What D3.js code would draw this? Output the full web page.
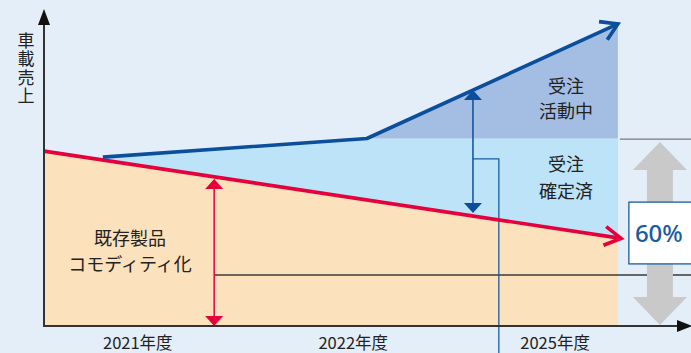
<!DOCTYPE html>
<html><head><meta charset="utf-8">
<script src="https://cdn.jsdelivr.net/npm/d3@7"></script>
<style>html,body{margin:0;padding:0;background:#e3eef8;}svg{display:block;}</style>
</head><body>
<svg id="c" width="691" height="353"></svg>
<script>
// ---- data (conceptual units: x 0..100 time, y 0..100 sales) ----
const categories = ["2021年度", "2022年度", "2025年度"];
const categoryX = [14.5, 47.8, 79.0];
const existingLine = [[0, 58.3], [89.2, 29.2]];          // 既存製品 (red)
const totalLine = [[9.1, 56.3], [49.9, 62.5], [88.7, 100.7]]; // 受注 total (blue)
const confirmedLevel = 62.5;
const fillEnd = 88.7;
const labelExisting = ["既存製品", "コモディティ化"];
const labelActive = ["受注", "活動中"];
const labelConfirmed = ["受注", "確定済"];
const axisLabel = "車載売上";
const shareLabel = "60%";
const redArrow = {x: 26.3, top: 49.0, bottom: 0};
const blueArrow = {x: 66.3, top: 78.7, bottom: 37.7};
const connector = [[66.3, 55.7], [70.3, 55.7], [70.3, -10]];
const refLineLow = {x0: 26.3, x1: 100, y: 17};
const refLineHigh = {x0: 89.0, x1: 100, y: 62.3};
const grayArrow = {x: 95.2, top: 61.3, bottom: 0.3};
const shareBox = {x0: 90.4, x1: 101, y0: 20.7, y1: 41.3};

const svg = d3.select("#c");
const W = 691, H = 353;
const x = d3.scaleLinear().domain([0, 100]).range([44, 691]);
const y = d3.scaleLinear().domain([0, 100]).range([326, 26]);

svg.append("rect").attr("width", W).attr("height", H).attr("fill", "#e3eef8");

const defs = svg.append("defs");
defs.append("clipPath").attr("id", "fillclip").append("rect")
  .attr("x", x(0)).attr("y", 0).attr("width", x(fillEnd) - x(0)).attr("height", y(0));

const g = svg.append("g").attr("clip-path", "url(#fillclip)");
// light blue confirmed region
const lb = [totalLine[0], totalLine[1], [fillEnd + 1, confirmedLevel], [fillEnd + 1, 0], [totalLine[0][0], 0]];
g.append("path").attr("d", d3.line().x(d => x(d[0])).y(d => y(d[1]))(lb) + "Z").attr("fill", "#bce3f8");
// dark blue active region
const db = [totalLine[1], totalLine[2], [totalLine[2][0], confirmedLevel]];
g.append("path").attr("d", d3.line().x(d => x(d[0])).y(d => y(d[1]))(db) + "Z").attr("fill", "#a3bee2");
// orange existing area
g.append("path").datum(existingLine)
  .attr("d", d3.area().x(d => x(d[0])).y0(y(0)).y1(d => y(d[1])))
  .attr("fill", "#fbe1bc");

// reference lines
svg.append("line").attr("x1", x(refLineLow.x0)).attr("x2", x(refLineLow.x1))
  .attr("y1", y(refLineLow.y)).attr("y2", y(refLineLow.y)).attr("stroke", "#3a3a3a").attr("stroke-width", 1.3);
svg.append("line").attr("x1", x(refLineHigh.x0)).attr("x2", x(refLineHigh.x1))
  .attr("y1", y(refLineHigh.y)).attr("y2", y(refLineHigh.y)).attr("stroke", "#7a7a7a").attr("stroke-width", 1.3);

// gray double arrow
(function () {
  const cx = x(grayArrow.x), t = y(grayArrow.top), b = y(grayArrow.bottom);
  const sw = 13, hw = 27, hh = 28;
  const pts = [[cx, t], [cx + hw, t + hh], [cx + sw, t + hh], [cx + sw, b - hh], [cx + hw, b - hh], [cx, b],
    [cx - hw, b - hh], [cx - sw, b - hh], [cx - sw, t + hh], [cx - hw, t + hh]];
  svg.append("polygon").attr("points", pts.map(p => p.join(",")).join(" ")).attr("fill", "#c9c9c9");
})();

function chevron(p1, p2, len, ang, color, w) {
  const a = Math.atan2(p2[1] - p1[1], p2[0] - p1[0]);
  const pA = [p2[0] - len * Math.cos(a - ang), p2[1] - len * Math.sin(a - ang)];
  const pB = [p2[0] - len * Math.cos(a + ang), p2[1] - len * Math.sin(a + ang)];
  svg.append("path").attr("d", `M${pA}L${p2}L${pB}`).attr("fill", "none")
    .attr("stroke", color).attr("stroke-width", w).attr("stroke-linejoin", "miter").attr("stroke-linecap", "butt");
}
function tri(cx, tipY, dir, hw, hh, color) {
  svg.append("polygon").attr("points", `${cx},${tipY} ${cx - hw},${tipY - dir * hh} ${cx + hw},${tipY - dir * hh}`).attr("fill", color);
}

// connector (thin blue)
svg.append("path").attr("d", d3.line().x(d => x(d[0])).y(d => y(d[1]))(connector))
  .attr("fill", "none").attr("stroke", "#1a5ca3").attr("stroke-width", 1.3);

// red line
const redPx = existingLine.map(d => [x(d[0]), y(d[1])]);
svg.append("path").attr("d", d3.line()(redPx)).attr("fill", "none").attr("stroke", "#e5003c").attr("stroke-width", 3.6);
chevron(redPx[0], redPx[1], 19, 0.52, "#e5003c", 3.6);

// blue line
const bluePx = totalLine.map(d => [x(d[0]), y(d[1])]);
svg.append("path").attr("d", d3.line()(bluePx)).attr("fill", "none").attr("stroke", "#0b4f9c").attr("stroke-width", 3.6).attr("stroke-linejoin", "round");
chevron(bluePx[1], bluePx[2], 19, 0.55, "#0b4f9c", 3.6);

// red double arrow
(function () {
  const cx = x(redArrow.x), t = y(redArrow.top), b = y(redArrow.bottom);
  svg.append("line").attr("x1", cx).attr("x2", cx).attr("y1", t + 8).attr("y2", b - 8).attr("stroke", "#e5003c").attr("stroke-width", 1.5);
  tri(cx, t, -1, 9, 10, "#e5003c");
  tri(cx, b, 1, 9, 10, "#e5003c");
})();
// blue double arrow
(function () {
  const cx = x(blueArrow.x), t = y(blueArrow.top), b = y(blueArrow.bottom);
  svg.append("line").attr("x1", cx).attr("x2", cx).attr("y1", t + 8).attr("y2", b - 8).attr("stroke", "#0b4f9c").attr("stroke-width", 1.5);
  tri(cx, t, -1, 9, 10, "#0b4f9c");
  tri(cx, b, 1, 9, 10, "#0b4f9c");
})();

// axes
const axisColor = "#333";
svg.append("line").attr("x1", x(0)).attr("x2", x(0)).attr("y1", y(0) + 1).attr("y2", 22).attr("stroke", axisColor).attr("stroke-width", 2);
svg.append("polygon").attr("points", `${x(0)},9 ${x(0) - 6},25 ${x(0) + 6},25`).attr("fill", "#111");
svg.append("line").attr("x1", x(0) - 1).attr("x2", 680).attr("y1", y(0)).attr("y2", y(0)).attr("stroke", axisColor).attr("stroke-width", 2);
svg.append("polygon").attr("points", `692,${y(0)} 677,${y(0) - 6} 677,${y(0) + 6}`).attr("fill", "#111");

// 60% box
svg.append("rect").attr("x", x(shareBox.x0)).attr("y", y(shareBox.y1))
  .attr("width", x(shareBox.x1) - x(shareBox.x0)).attr("height", y(shareBox.y0) - y(shareBox.y1))
  .attr("fill", "#fff").attr("stroke", "#1b5c9f").attr("stroke-width", 1.3);
svg.append("text").attr("x", x(shareBox.x0) + 6).attr("y", (y(shareBox.y0) + y(shareBox.y1)) / 2 + 8.5)
  .attr("fill", "#1b5a9e").attr("font-family", "'Noto Sans', 'Liberation Sans', sans-serif")
  .attr("font-weight", 500).attr("font-size", 24).text(shareLabel);

// text labels
const font = "'Noto Sans CJK JP', 'Noto Sans', sans-serif";
function block(lines, cx, cy0, gap, size) {
  lines.forEach((s, i) => svg.append("text").attr("x", cx).attr("y", cy0 + i * gap)
    .attr("text-anchor", "middle").attr("dominant-baseline", "central")
    .attr("font-family", font).attr("font-size", size).attr("fill", "#222").text(s));
}
block(labelExisting, 130, 237, 26, 18);
block(labelActive, 566, 85, 25, 18);
block(labelConfirmed, 566, 163, 27, 18);
svg.append("text").attr("x", 26).attr("y", 32)
  .style("writing-mode", "vertical-rl").style("text-orientation", "upright")
  .attr("letter-spacing", 1.5)
  .attr("font-family", font).attr("font-size", 17).attr("fill", "#222").text(axisLabel);
categories.forEach((c, i) => svg.append("text").attr("x", x(categoryX[i])).attr("y", 342)
  .attr("text-anchor", "middle").attr("dominant-baseline", "central")
  .attr("font-family", font).attr("font-size", 16.5).attr("fill", "#222").text(c));
</script>
</body></html>
